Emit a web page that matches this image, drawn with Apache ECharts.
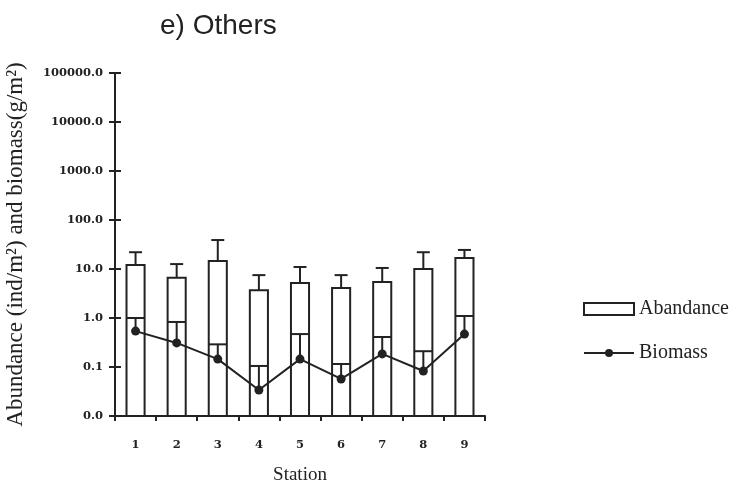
<!DOCTYPE html>
<html>
<head>
<meta charset="utf-8">
<style>
  html, body { margin: 0; padding: 0; background: #ffffff; }
  #chart { width: 736px; height: 486px; }
</style>
<script src="https://cdn.jsdelivr.net/npm/echarts@6/dist/echarts.min.js"></script>
</head>
<body>
<div id="chart"></div>
<script>
// Stations along the x axis
const stations = ['1', '2', '3', '4', '5', '6', '7', '8', '9'];
// Mean abundance (ind/m2) and the top of its error bar
const abundance = [12, 6.6, 14.5, 3.7, 5.2, 4.1, 5.4, 10, 16.8];
const abundanceUpper = [22, 12.6, 39, 7.5, 11, 7.5, 10.5, 22, 24.5];
// Mean biomass (g/m2) and the top of its error bar
const biomass = [0.54, 0.31, 0.145, 0.034, 0.145, 0.057, 0.185, 0.083, 0.47];
const biomassUpper = [1.0, 0.83, 0.29, 0.105, 0.47, 0.115, 0.41, 0.21, 1.1];
// Log axis range
const yMin = 0.01;
const yMax = 100000;

const ink = '#222222';
const tickFont = 'DejaVu Serif';
const textFont = 'Liberation Serif';
const barRatio = 0.44;

const chart = echarts.init(document.getElementById('chart'));

function bandWidth(api) {
  return api.size([1, 1])[0];
}

// Abundance bars with their upper error bars
function renderAbundance(params, api) {
  const i = api.value(0);
  const bw = bandWidth(api) * barRatio;
  const base = api.coord([i, yMin]);
  const top = api.coord([i, api.value(1)]);
  const err = api.coord([i, api.value(2)]);
  const x = top[0];
  const capHalf = 6.5;
  return {
    type: 'group',
    children: [
      {
        type: 'rect',
        shape: { x: x - bw / 2, y: top[1], width: bw, height: base[1] - top[1] },
        style: { fill: '#ffffff', stroke: ink, lineWidth: 2 }
      },
      {
        type: 'line',
        shape: { x1: x, y1: top[1], x2: x, y2: err[1] },
        style: { stroke: ink, lineWidth: 2 }
      },
      {
        type: 'line',
        shape: { x1: x - capHalf, y1: err[1], x2: x + capHalf, y2: err[1] },
        style: { stroke: ink, lineWidth: 2 }
      }
    ]
  };
}

// Biomass error bars: a cap across the bar and a stem down to the point
function renderBiomassError(params, api) {
  const i = api.value(0);
  const bw = bandWidth(api) * barRatio;
  const pt = api.coord([i, api.value(1)]);
  const up = api.coord([i, api.value(2)]);
  const x = pt[0];
  return {
    type: 'group',
    children: [
      {
        type: 'line',
        shape: { x1: x, y1: pt[1], x2: x, y2: up[1] },
        style: { stroke: ink, lineWidth: 2 }
      },
      {
        type: 'line',
        shape: { x1: x - bw / 2, y1: up[1], x2: x + bw / 2, y2: up[1] },
        style: { stroke: ink, lineWidth: 2 }
      }
    ]
  };
}

const abundanceData = stations.map((s, i) => [i, abundance[i], abundanceUpper[i]]);
const biomassErrData = stations.map((s, i) => [i, biomass[i], biomassUpper[i]]);

const yAxisBase = {
  type: 'log',
  logBase: 10,
  min: yMin,
  max: yMax,
  interval: 1,
  splitLine: { show: false },
  minorTick: { show: false }
};

chart.setOption({
  backgroundColor: '#ffffff',
  animation: false,
  title: {
    text: 'e) Others',
    left: 160,
    top: 12,
    padding: 0,
    textStyle: { fontFamily: 'Liberation Sans', fontSize: 28, fontWeight: 'normal', color: ink }
  },
  legend: [
    {
      data: [{ name: 'Abandance', icon: 'rect', itemStyle: { color: '#ffffff', borderColor: ink, borderWidth: 2 } }],
      left: 583,
      top: 299,
      padding: 0,
      itemWidth: 50,
      itemHeight: 12,
      selectedMode: false,
      textStyle: { fontFamily: textFont, fontSize: 20, color: ink }
    },
    {
      data: ['Biomass'],
      left: 583,
      top: 343,
      padding: 0,
      itemWidth: 50,
      itemHeight: 10,
      selectedMode: false,
      textStyle: { fontFamily: textFont, fontSize: 20, color: ink }
    }
  ],
  grid: { left: 115, right: 251, top: 73, bottom: 70, containLabel: false, outerBoundsMode: 'none' },
  xAxis: {
    type: 'category',
    data: stations,
    name: 'Station',
    nameLocation: 'middle',
    nameGap: 50,
    nameTextStyle: { fontFamily: textFont, fontSize: 19, color: ink },
    axisLine: { lineStyle: { color: ink, width: 2 } },
    axisTick: { show: true, alignWithLabel: false, length: 5, lineStyle: { color: ink, width: 2 } },
    axisLabel: { margin: 23, fontFamily: tickFont, fontWeight: 'bold', fontSize: 11.5, color: ink },
    splitLine: { show: false }
  },
  yAxis: [
    Object.assign({}, yAxisBase, {
      name: 'Abundance (ind/m²) and biomass(g/m²)',
      nameLocation: 'middle',
      nameGap: 88,
      nameTextStyle: { fontFamily: textFont, fontSize: 23, color: ink },
      axisLine: { show: true, lineStyle: { color: ink, width: 2 } },
      axisTick: { show: true, length: 6, lineStyle: { color: ink, width: 2 } },
      axisLabel: {
        margin: 12,
        fontFamily: tickFont,
        fontWeight: 'bold',
        fontSize: 11.5,
        color: ink,
        formatter: v => Number(v).toFixed(1)
      }
    }),
    Object.assign({}, yAxisBase, {
      position: 'left',
      axisLine: { show: false },
      axisTick: { show: true, inside: true, length: 6, lineStyle: { color: ink, width: 2 } },
      axisLabel: { show: false }
    })
  ],
  series: [
    {
      name: 'Abandance',
      type: 'custom',
      renderItem: renderAbundance,
      data: abundanceData,
      encode: { x: 0, y: 1 },
      z: 2,
      itemStyle: { color: '#ffffff', borderColor: ink }
    },
    {
      name: 'Biomass error',
      type: 'custom',
      renderItem: renderBiomassError,
      data: biomassErrData,
      encode: { x: 0, y: [1, 2] },
      z: 3
    },
    {
      name: 'Biomass',
      type: 'line',
      data: biomass,
      symbol: 'circle',
      symbolSize: 9,
      color: ink,
      lineStyle: { color: ink, width: 2 },
      itemStyle: { color: ink },
      z: 4
    }
  ]
});
</script>
</body>
</html>
